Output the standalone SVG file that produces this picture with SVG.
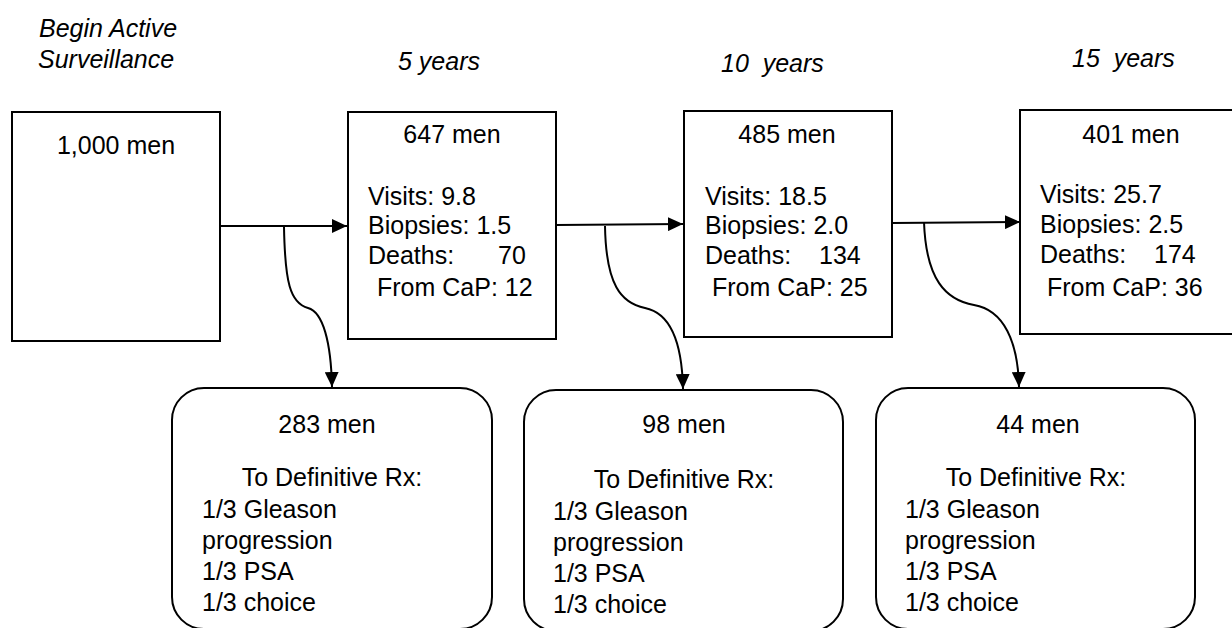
<svg xmlns="http://www.w3.org/2000/svg" width="1232" height="628" viewBox="0 0 1232 628">
<style>
.box{fill:#fff;stroke:#000;stroke-width:2}
.t{font-family:"Liberation Sans",Arial,sans-serif;font-size:25px;fill:#000}
.h{font-family:"Liberation Sans",Arial,sans-serif;font-size:25px;font-style:italic;fill:#000}
.c{text-anchor:middle}
.ln{fill:none;stroke:#000;stroke-width:2}
</style>
<defs>
<marker id="ah" markerUnits="userSpaceOnUse" markerWidth="16" markerHeight="14" refX="15" refY="7" orient="auto">
<path d="M0,0 L15,7 L0,14 z" fill="#000"/>
</marker>
</defs>
<g id="headers">
<text class="h" x="39" y="37">Begin Active</text>
<text class="h" x="38" y="68">Surveillance</text>
<text class="h" x="398" y="70">5 years</text>
<text class="h" x="721" y="72" xml:space="preserve">10  years</text>
<text class="h" x="1072" y="67" xml:space="preserve">15  years</text>
</g>
<g id="box-start">
<rect class="box" x="12" y="112" width="208" height="229"/>
<text class="t c" x="116" y="154">1,000 men</text>
</g>
<g id="box-5y">
<rect class="box" x="348" y="112" width="208" height="227"/>
<text class="t c" x="452" y="143">647 men</text>
<text class="t" x="368" y="205">Visits: 9.8</text>
<text class="t" x="368" y="234">Biopsies: 1.5</text>
<text class="t" x="368" y="264">Deaths:<tspan x="498">70</tspan></text>
<text class="t" x="377" y="296">From CaP: 12</text>
</g>
<g id="box-10y">
<rect class="box" x="684" y="111" width="208" height="226"/>
<text class="t c" x="787" y="143">485 men</text>
<text class="t" x="705" y="205">Visits: 18.5</text>
<text class="t" x="705" y="234">Biopsies: 2.0</text>
<text class="t" x="705" y="264">Deaths:<tspan x="819">134</tspan></text>
<text class="t" x="712" y="296">From CaP: 25</text>
</g>
<g id="box-15y">
<rect class="box" x="1020" y="110" width="230" height="224"/>
<text class="t c" x="1131" y="143">401 men</text>
<text class="t" x="1040" y="203">Visits: 25.7</text>
<text class="t" x="1040" y="233">Biopsies: 2.5</text>
<text class="t" x="1040" y="263">Deaths:<tspan x="1154">174</tspan></text>
<text class="t" x="1047" y="296">From CaP: 36</text>
</g>
<g id="rx-5y">
<rect class="box" x="172" y="388" width="320" height="241" rx="32"/>
<text class="t c" x="327" y="433">283 men</text>
<text class="t c" x="332" y="486">To Definitive Rx:</text>
<text class="t" x="202" y="518">1/3 Gleason</text>
<text class="t" x="202" y="549">progression</text>
<text class="t" x="202" y="580">1/3 PSA</text>
<text class="t" x="202" y="611">1/3 choice</text>
</g>
<g id="rx-10y">
<rect class="box" x="524" y="390" width="319" height="241" rx="32"/>
<text class="t c" x="684" y="433">98 men</text>
<text class="t c" x="684" y="488">To Definitive Rx:</text>
<text class="t" x="553" y="520">1/3 Gleason</text>
<text class="t" x="553" y="551">progression</text>
<text class="t" x="553" y="582">1/3 PSA</text>
<text class="t" x="553" y="613">1/3 choice</text>
</g>
<g id="rx-15y">
<rect class="box" x="876" y="388" width="319" height="241" rx="32"/>
<text class="t c" x="1038" y="433">44 men</text>
<text class="t c" x="1036" y="486">To Definitive Rx:</text>
<text class="t" x="905" y="518">1/3 Gleason</text>
<text class="t" x="905" y="549">progression</text>
<text class="t" x="905" y="580">1/3 PSA</text>
<text class="t" x="905" y="611">1/3 choice</text>
</g>
<g id="connectors">
<path class="ln" d="M220,226 L347,226" marker-end="url(#ah)"/>
<path class="ln" d="M556,225 L683,224" marker-end="url(#ah)"/>
<path class="ln" d="M892,223 L1020,222" marker-end="url(#ah)"/>
<path class="ln" d="M284,227 C285,282 290,303 308,308 C323,312 331,342 332,387" marker-end="url(#ah)"/>
<path class="ln" d="M605,226 C606,285 621,303 645,308 C670,313 682,342 683,389" marker-end="url(#ah)"/>
<path class="ln" d="M924,222 C926,280 946,300 974,305 C1004,310 1018,342 1019,387" marker-end="url(#ah)"/>
</g>
</svg>
